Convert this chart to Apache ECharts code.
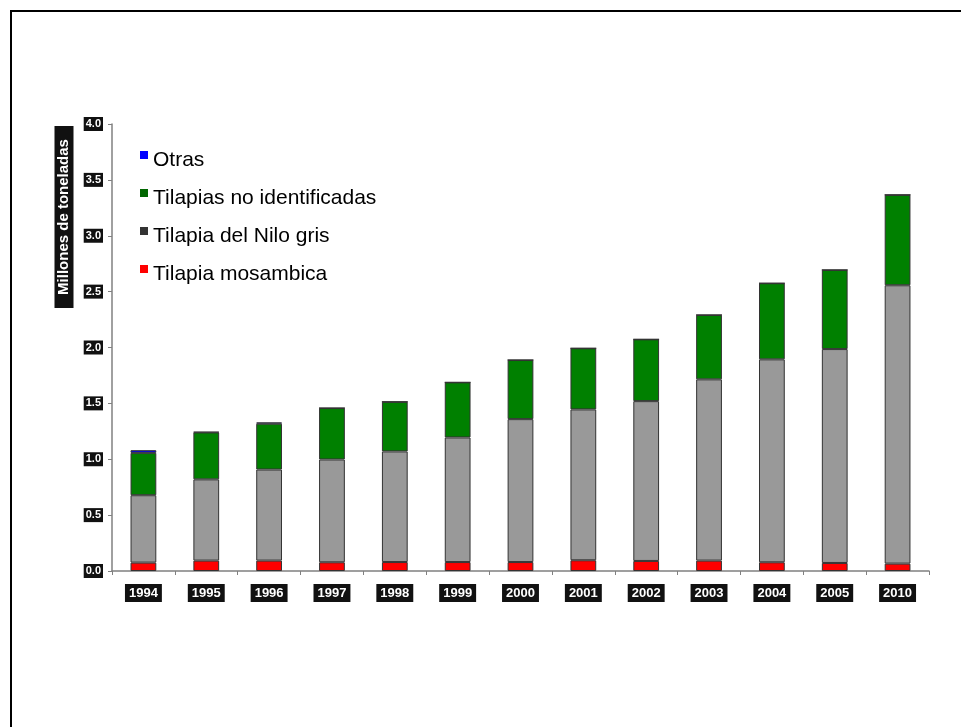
<!DOCTYPE html>
<html>
<head>
<meta charset="utf-8">
<script src="https://cdn.jsdelivr.net/npm/echarts@6/dist/echarts.min.js"></script>
<style>
  html, body { margin: 0; padding: 0; background: #fff; }
  #chart { width: 961px; height: 727px; }
</style>
</head>
<body>
<div id="chart"></div>
<script>
// Tilapia production by species, millions of tonnes
const years = ['1994','1995','1996','1997','1998','1999','2000','2001','2002','2003','2004','2005','2010'];
const mosambica = [0.075,0.093,0.093,0.078,0.080,0.080,0.080,0.096,0.090,0.093,0.078,0.072,0.066];
const niloGris  = [0.603,0.727,0.815,0.920,0.990,1.115,1.279,1.350,1.430,1.622,1.816,1.914,2.491];
const noIdent   = [0.379,0.420,0.410,0.460,0.444,0.493,0.529,0.547,0.553,0.576,0.681,0.708,0.809];
const otras     = [0.024,0.005,0.012,0.000,0.000,0.000,0.000,0.000,0.000,0.000,0.000,0.000,0.000];
const yTicks = ['0.0','0.5','1.0','1.5','2.0','2.5','3.0','3.5','4.0'];

const FONT = '"Liberation Sans", Arial, sans-serif';
const chart = echarts.init(document.getElementById('chart'));

const boxLabel = {
  color: '#fff', backgroundColor: '#111', fontFamily: FONT, fontWeight: 'bold'
};

// legend swatch sits at the top of the text line
const swatch = 'path://M0,0H8V8H0Z M0,19H0.001V19.001H0Z';

function bar(name, data, color) {
  return {
    name, type: 'bar', stack: 'total', data, barWidth: '41%',
    itemStyle: { color, borderColor: '#333', borderWidth: 1 }
  };
}

chart.setOption({
  animation: false,
  backgroundColor: '#fff',
  graphic: [
    { type: 'polyline', shape: { points: [[11, 727], [11, 11], [961, 11]] },
      style: { stroke: '#000', lineWidth: 2, fill: null } },
    { type: 'text', x: 64, y: 217, rotation: Math.PI / 2,
      style: { text: 'Millones de toneladas', fill: '#fff', backgroundColor: '#111',
               font: 'bold 15px ' + FONT, padding: [2, 13], align: 'center', verticalAlign: 'middle' } }
  ],
  legend: {
    orient: 'vertical', left: 135, top: 145,
    itemWidth: 8, itemHeight: 19, itemGap: 17,
    icon: swatch,
    itemStyle: { borderWidth: 0 },
    textStyle: { fontFamily: FONT, fontSize: 21, color: '#000' },
    data: [
      { name: 'Otras', itemStyle: { color: '#0000ff' } },
      { name: 'Tilapias no identificadas', itemStyle: { color: '#006600' } },
      { name: 'Tilapia del Nilo gris', itemStyle: { color: '#333333' } },
      { name: 'Tilapia mosambica', itemStyle: { color: '#ff0000' } }
    ]
  },
  grid: { left: 112, right: 32, top: 124, bottom: 156, containLabel: false },
  xAxis: {
    type: 'category', data: years,
    axisLine: { lineStyle: { color: '#808080', width: 1.5 } },
    axisTick: { show: true, length: 4, lineStyle: { color: '#808080' } },
    axisLabel: Object.assign({}, boxLabel, { fontSize: 13, padding: [3, 4, 2, 4], margin: 13 })
  },
  yAxis: {
    type: 'value', min: 0, max: 4, interval: 0.5,
    splitLine: { show: false },
    axisLine: { show: true, lineStyle: { color: '#808080', width: 1.5 } },
    axisTick: { show: true, length: 4, lineStyle: { color: '#808080' } },
    axisLabel: Object.assign({}, boxLabel, {
      fontSize: 11, padding: [2, 2, 1, 2], margin: 9,
      formatter: (v) => yTicks[Math.round(v / 0.5)]
    })
  },
  series: [
    bar('Tilapia mosambica', mosambica, '#ff0000'),
    bar('Tilapia del Nilo gris', niloGris, '#999999'),
    bar('Tilapias no identificadas', noIdent, '#008000'),
    bar('Otras', otras, '#0000ff')
  ]
});
</script>
</body>
</html>
